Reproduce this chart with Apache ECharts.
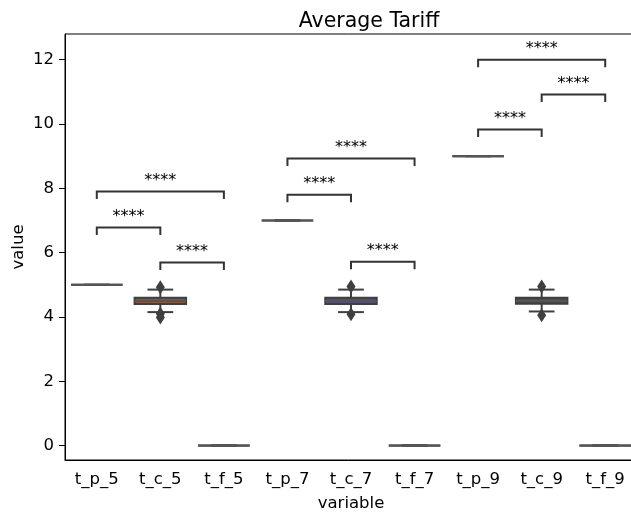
<!DOCTYPE html>
<html>
<head>
<meta charset="utf-8">
<script src="https://cdn.jsdelivr.net/npm/echarts@6/dist/echarts.min.js"></script>
<style>html,body{margin:0;padding:0;background:#fff;}#c{width:631px;height:512px;}</style>
</head>
<body>
<div id="c"></div>
<script>
const categories = ['t_p_5','t_c_5','t_f_5','t_p_7','t_c_7','t_f_7','t_p_9','t_c_9','t_f_9'];
// [min, Q1, median, Q3, max]
const boxValues = [
  [5,5,5,5,5],
  [4.15,4.4,4.5,4.6,4.85],
  [0,0,0,0,0],
  [7,7,7,7,7],
  [4.15,4.4,4.5,4.6,4.85],
  [0,0,0,0,0],
  [9,9,9,9,9],
  [4.17,4.41,4.5,4.6,4.85],
  [0,0,0,0,0]
];
const boxColors = ['#555555','#8a5a3c','#555555','#555555','#584c78','#555555','#555555','#4a4a4a','#555555'];
const outliers = [[1,4.92],[1,4.1],[1,3.98],[4,4.95],[4,4.08],[7,4.95],[7,4.05]];
// [from index, to index, bracket height]
const brackets = [
  [0,1,6.78],[0,2,7.9],[1,2,5.69],
  [3,4,7.8],[3,5,8.93],[4,5,5.72],
  [6,7,9.83],[7,8,10.92],[6,8,12.0]
];
const bracketText = '****';
const yTicks = [0,2,4,6,8,10,12];

const font = 'DejaVu Sans';
const edge = '#3f3f3f';
const boxData = boxValues.map((v,i)=>[i].concat(v));
const chart = echarts.init(document.getElementById('c'), null, {renderer:'canvas'});
chart.setOption({
  animation:false,
  backgroundColor:'#fff',
  title:{text:'Average Tariff', left:364, top:6, textAlign:'center',
    textStyle:{fontFamily:font,fontSize:20.5,fontWeight:'normal',color:'#000'}},
  grid:{left:65, top:34, width:572, height:426, show:true, borderColor:'#000', borderWidth:1,
    backgroundColor:'transparent', outerBoundsMode:'none', containLabel:false},
  xAxis:{type:'category', data:categories, boundaryGap:true,
    name:'variable', nameLocation:'middle', nameGap:35,
    nameTextStyle:{fontFamily:font,fontSize:16.5,color:'#000'},
    axisLine:{onZero:false,lineStyle:{color:'#000',width:1}},
    axisTick:{alignWithLabel:true,length:5,lineStyle:{color:'#000'}},
    axisLabel:{fontFamily:font,fontSize:16.5,color:'#000',margin:11},
    splitLine:{show:false}},
  yAxis:{type:'value', min:-0.45, max:12.8,
    name:'value', nameLocation:'middle', nameGap:38, nameRotate:90, nameMoveOverlap:false,
    nameTextStyle:{fontFamily:font,fontSize:16.5,color:'#000'},
    axisLine:{show:true,lineStyle:{color:'#000',width:1}},
    axisTick:{show:true,length:6,lineStyle:{color:'#000'},customValues:yTicks},
    axisLabel:{fontFamily:font,fontSize:16.5,color:'#000',margin:11,customValues:yTicks},
    splitLine:{show:false}},
  series:[
    {type:'custom', data:boxData, z:2,
      encode:{x:0, y:[1,2,3,4,5]},
      renderItem:function(params, api){
        const i = api.value(0);
        const bw = api.size([1,0])[0]*0.81;
        const cx = api.coord([i,0])[0];
        const yMin = api.coord([i,api.value(1)])[1];
        const yQ1 = api.coord([i,api.value(2)])[1];
        const yMed = api.coord([i,api.value(3)])[1];
        const yQ3 = api.coord([i,api.value(4)])[1];
        const yMax = api.coord([i,api.value(5)])[1];
        const cap = bw/4;
        const ls = {stroke:edge,lineWidth:2,fill:null};
        return {type:'group', children:[
          {type:'line', shape:{x1:cx,y1:yQ3,x2:cx,y2:yMax}, style:ls},
          {type:'line', shape:{x1:cx,y1:yQ1,x2:cx,y2:yMin}, style:ls},
          {type:'line', shape:{x1:cx-cap,y1:yMax,x2:cx+cap,y2:yMax}, style:ls},
          {type:'line', shape:{x1:cx-cap,y1:yMin,x2:cx+cap,y2:yMin}, style:ls},
          {type:'rect', shape:{x:cx-bw/2,y:yQ3,width:bw,height:yQ1-yQ3},
            style:{fill:boxColors[i],stroke:edge,lineWidth:2}},
          {type:'line', shape:{x1:cx-bw/2,y1:yMed,x2:cx+bw/2,y2:yMed}, style:{stroke:'#555',lineWidth:2.2}}
        ]};
      }},
    {type:'scatter', data:outliers, symbol:'diamond', symbolSize:[9,14],
      itemStyle:{color:edge, opacity:1}, z:3},
    {type:'custom', data:brackets, z:5,
      renderItem:function(params, api){
        const a = api.value(0), b = api.value(1), y = api.value(2);
        const p1 = api.coord([a,y]), p2 = api.coord([b,y]);
        const drop = 7.5;
        return {type:'group', children:[
          {type:'polyline', shape:{points:[[p1[0],p1[1]+drop],[p1[0],p1[1]],[p2[0],p2[1]],[p2[0],p2[1]+drop]]},
            style:{stroke:'#333',lineWidth:2,fill:null}},
          {type:'text', x:(p1[0]+p2[0])/2, y:p1[1]-3,
            style:{text:bracketText, fontFamily:font, fontSize:16, fill:'#000', align:'center', verticalAlign:'bottom'}}
        ]};
      }}
  ]
});
</script>
</body>
</html>
